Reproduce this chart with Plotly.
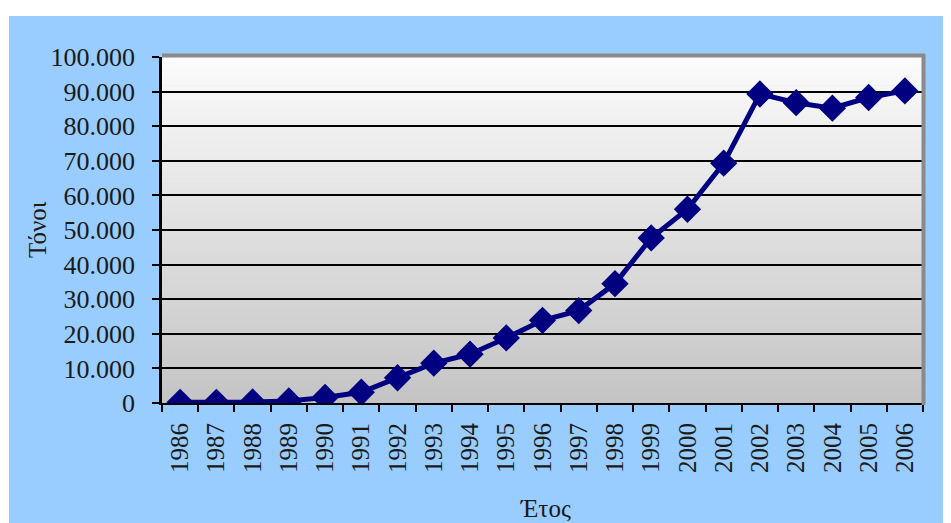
import plotly.graph_objects as go

years = ["1986", "1987", "1988", "1989", "1990", "1991", "1992", "1993", "1994", "1995", "1996",
         "1997", "1998", "1999", "2000", "2001", "2002", "2003", "2004", "2005", "2006"]
tonnes = [200, 200, 300, 600, 1600, 3100, 7300, 11500, 14100, 18800, 23900,
          26700, 34500, 47700, 56000, 69300, 89300, 86800, 85200, 88300, 90200]
y_ticks = [0, 10000, 20000, 30000, 40000, 50000, 60000, 70000, 80000, 90000, 100000]
y_title = "Τόνοι"
x_title = "Έτος"

# page has an 8px body margin; work in page pixels and convert
OFF = 8
W, H = 951 - OFF, 523 - OFF
PL, PR, PT, PB = 162, 923, 57, 403  # plot area in page pixels
L = PL - OFF
T = PT - OFF
R = W - (PR - OFF)
B = H - (PB - OFF)
pw = PR - PL
ph = PB - PT


def px_x(p):
    return (p - PL) / pw


def px_y(p):
    return (PB - p) / ph


fig = go.Figure()
fig.add_trace(go.Scatter(
    x=years, y=tonnes, mode="lines+markers",
    line=dict(color="#000080", width=5),
    marker=dict(symbol="diamond", size=21, color="#000080"),
    hoverinfo="x+y", showlegend=False,
))

shapes = []
# blue background
shapes.append(dict(type="rect", xref="paper", yref="paper", layer="below",
                   x0=px_x(9), x1=px_x(960), y0=px_y(540), y1=px_y(16),
                   fillcolor="#99CCFF", line=dict(width=0)))
# gradient plot area
n = 60
top = (251, 251, 251)
bot = (196, 196, 196)
for i in range(n):
    f = (i + 0.5) / n
    c = tuple(round(bot[k] + (top[k] - bot[k]) * f) for k in range(3))
    shapes.append(dict(type="rect", xref="paper", yref="paper", layer="below",
                       x0=0, x1=1, y0=i / n, y1=(i + 1) / n + 0.002,
                       fillcolor="rgb(%d,%d,%d)" % c, line=dict(width=0)))
# gray frame top and right
shapes.append(dict(type="line", xref="paper", yref="paper", layer="above",
                   x0=0, x1=px_x(925), y0=px_y(55.5), y1=px_y(55.5),
                   line=dict(color="#8a8a8a", width=4)))
shapes.append(dict(type="line", xref="paper", yref="paper", layer="above",
                   x0=px_x(923.5), x1=px_x(923.5), y0=px_y(405), y1=px_y(54),
                   line=dict(color="#8a8a8a", width=4)))

fig.update_layout(
    width=W, height=H,
    margin=dict(l=L, r=R, t=T, b=B, pad=0),
    paper_bgcolor="white",
    plot_bgcolor="rgba(0,0,0,0)",
    separators=",.",
    font=dict(family="Liberation Serif, Times New Roman, serif", size=25, color="#1a1a1a"),
    shapes=shapes,
    xaxis=dict(
        type="category", range=[-0.5, 20.5], tickson="boundaries",
        ticks="outside", ticklen=7, tickwidth=2, tickcolor="black",
        showgrid=False, showline=True, linecolor="black", linewidth=2,
        tickangle=-90, ticklabelstandoff=8, zeroline=False,
        tickfont=dict(size=25),
    ),
    yaxis=dict(
        range=[0, 100000], tickvals=y_ticks, tickformat=",d",
        ticks="outside", ticklen=7, tickwidth=2, tickcolor="black",
        showgrid=True, gridcolor="black", gridwidth=1.5,
        showline=True, linecolor="black", linewidth=2.5,
        zeroline=False, ticklabelstandoff=12,
        tickfont=dict(size=26),
    ),
    annotations=[
        dict(text=y_title, xref="paper", yref="paper", x=px_x(37), y=0.5,
             textangle=-90, showarrow=False, xanchor="center", yanchor="middle",
             font=dict(size=25)),
        dict(text=x_title, xref="paper", yref="paper", x=px_x(545), y=px_y(508),
             showarrow=False, xanchor="center", yanchor="middle",
             font=dict(size=25)),
    ],
)

fig.write_html("out.html")
